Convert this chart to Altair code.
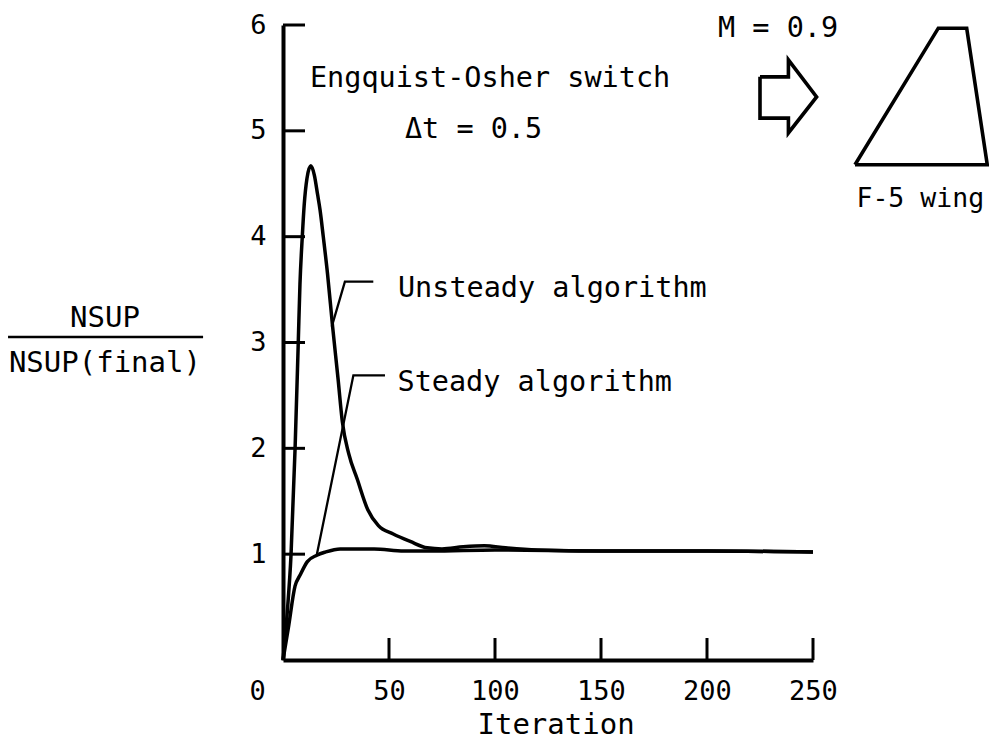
import altair as alt
import pandas as pd

# ---- data ----
iter_unsteady = [0, 2, 3.8, 5.7, 7.2, 8, 9.1, 10, 11.3, 13.1, 14.8, 16.3, 17.5, 19, 21, 23.4,
                 26, 28, 31, 35, 40, 45, 52, 60, 68, 75, 85, 95, 105, 120, 150, 200, 250]
nsup_unsteady = [0, 0.45, 1.0, 2.0, 3.0, 3.55, 4.0, 4.3, 4.55, 4.67, 4.58, 4.4, 4.25, 4.0, 3.65, 3.15,
                 2.65, 2.25, 1.95, 1.71, 1.42, 1.27, 1.19, 1.12, 1.06, 1.05, 1.07, 1.08, 1.06, 1.04, 1.03, 1.03, 1.02]

iter_steady = [0, 2.5, 5.7, 8, 11.5, 16, 20, 27, 43, 57, 70, 100, 150, 200, 250]
nsup_steady = [0, 0.3, 0.7, 0.8, 0.93, 0.99, 1.02, 1.05, 1.05, 1.03, 1.03, 1.04, 1.03, 1.03, 1.02]

x_ticks = [50, 100, 150, 200, 250]
y_ticks = [1, 2, 3, 4, 5, 6]
x_labels = [0, 50, 100, 150, 200, 250]

# annotation texts (positions in data units)
note_text = ["Engquist-Osher switch", "\u0394t = 0.5", "Unsteady algorithm", "Steady algorithm",
             "M = 0.9"]
note_x = [12.7, 57.5, 54.2, 54.0, 205.2]
note_y = [5.414, 4.93, 3.43, 2.54, 5.887]

wing_text = ["F-5 wing"]
wing_text_x = [270.5]
wing_text_y = [4.28]

center_text = ["NSUP", "NSUP(final)", "Iteration"]
center_x = [-84.0, -84.0, 128.8]
center_y = [3.147, 2.721, -0.70]

# leader lines
lead_unsteady_x = [42.6, 29.2, 23.0]
lead_unsteady_y = [3.575, 3.575, 3.15]
lead_steady_x = [48.1, 33.2, 15.9]
lead_steady_y = [2.69, 2.69, 0.99]
frac_x = [-129.7, -37.7]
frac_y = [3.052, 3.052]

# flow arrow and wing planform outlines
arrow_x = [225.0, 238.4, 238.4, 251.7, 238.4, 238.4, 225.0, 225.0]
arrow_y = [5.51, 5.51, 5.67, 5.32, 4.98, 5.12, 5.12, 5.51]
wing_x = [269.8, 309.1, 322.5, 332.2, 269.8]
wing_y = [4.68, 5.97, 5.97, 4.68, 4.68]

FONT = "DejaVu Sans Mono"

curves = pd.DataFrame({
    "iter": iter_unsteady + iter_steady,
    "nsup": nsup_unsteady + nsup_steady,
    "series": ["Unsteady"] * len(iter_unsteady) + ["Steady"] * len(iter_steady),
})

xs = alt.Scale(domain=[0, 250], nice=False, zero=False)
ys = alt.Scale(domain=[0, 6], nice=False, zero=False)

base = alt.Chart(curves)

lines = base.mark_line(interpolate="monotone", color="black", strokeWidth=3.5).encode(
    x=alt.X("iter:Q", scale=xs,
            axis=alt.Axis(values=x_labels, title=None, grid=False, ticks=False, tickSize=0,
                          format="d",
                          domainColor="black", domainWidth=4, labelFont=FONT, labelFontSize=27,
                          labelColor="black", labelPadding=18, labelFlush=False,
                          labelOffset={"condition": {"test": "datum.value === 0", "value": -26},
                                       "value": 0})),
    y=alt.Y("nsup:Q", scale=ys,
            axis=alt.Axis(values=y_ticks, title=None, grid=False, ticks=False, tickSize=0,
                          format="d",
                          domainColor="black", domainWidth=4, labelFont=FONT, labelFontSize=27,
                          labelColor="black", labelPadding=17, labelFlush=False)),
    detail="series:N",
)

xt = alt.Chart(pd.DataFrame({"v": x_ticks})).mark_rule(color="black", strokeWidth=3).encode(
    x=alt.X("v:Q", scale=xs), y=alt.value(635), y2=alt.value(613))
yt = alt.Chart(pd.DataFrame({"v": y_ticks})).mark_rule(color="black", strokeWidth=3).encode(
    y=alt.Y("v:Q", scale=ys), x=alt.value(0), x2=alt.value(22))

def poly(xv, yv, name):
    return pd.DataFrame({"x": xv, "y": yv, "g": name, "o": list(range(len(xv)))})

leaders = pd.concat([poly(lead_unsteady_x, lead_unsteady_y, "lu"),
                     poly(lead_steady_x, lead_steady_y, "ls"),
                     poly(frac_x, frac_y, "fr")])
lead = alt.Chart(leaders).mark_line(color="black", strokeWidth=2.3, clip=False).encode(
    x=alt.X("x:Q", scale=xs), y=alt.Y("y:Q", scale=ys), detail="g:N", order="o:Q")

shapes = pd.concat([poly(arrow_x, arrow_y, "arrow"), poly(wing_x, wing_y, "wing")])
shp = alt.Chart(shapes).mark_line(color="black", strokeWidth=3.6, clip=False,
                                  strokeJoin="miter").encode(
    x=alt.X("x:Q", scale=xs), y=alt.Y("y:Q", scale=ys), detail="g:N", order="o:Q")

notes = alt.Chart(pd.DataFrame({"x": note_x, "y": note_y, "t": note_text})).mark_text(
    align="left", baseline="alphabetic", font=FONT, fontSize=28.5, color="black", clip=False
).encode(x=alt.X("x:Q", scale=xs), y=alt.Y("y:Q", scale=ys), text="t:N")

wnote = alt.Chart(pd.DataFrame({"x": wing_text_x, "y": wing_text_y, "t": wing_text})).mark_text(
    align="left", baseline="alphabetic", font=FONT, fontSize=26.5, color="black", clip=False
).encode(x=alt.X("x:Q", scale=xs), y=alt.Y("y:Q", scale=ys), text="t:N")

cnotes = alt.Chart(pd.DataFrame({"x": center_x, "y": center_y, "t": center_text})).mark_text(
    align="center", baseline="alphabetic", font=FONT, fontSize=29, color="black", clip=False
).encode(x=alt.X("x:Q", scale=xs), y=alt.Y("y:Q", scale=ys), text="t:N")

chart = alt.layer(lines, xt, yt, lead, shp, notes, wnote, cnotes).properties(
    width=530, height=635,
    autosize=alt.AutoSizeParams(type="none"),
    padding={"left": 275, "top": 17, "right": 176, "bottom": 82},
).configure(background="white").configure_view(stroke=None)

chart.save("out.html", embed_options={"renderer": "svg", "actions": False})
